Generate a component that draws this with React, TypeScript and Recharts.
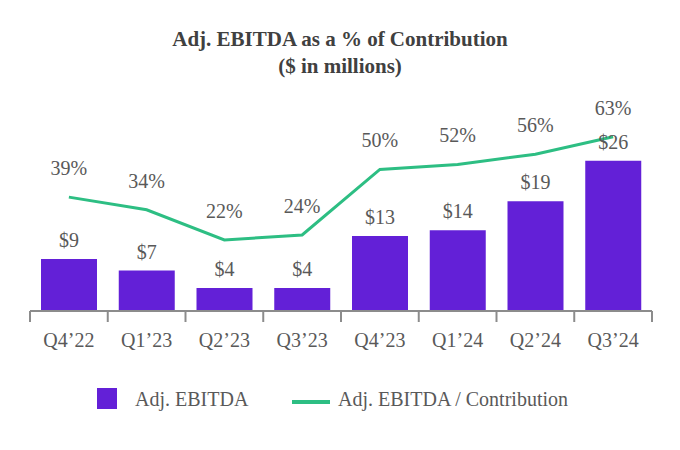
import * as React from "react";
import {
  ComposedChart,
  Bar,
  Line,
  XAxis,
  YAxis,
  Legend,
  LabelList,
} from "recharts";

const quarters = ["Q4’22", "Q1’23", "Q2’23", "Q3’23", "Q4’23", "Q1’24", "Q2’24", "Q3’24"];
const adjEbitda = [9, 7, 4, 4, 13, 14, 19, 26];
const ebitdaPct = [39, 34, 22, 24, 50, 52, 56, 63];

const PURPLE = "#6320D7";
const GREEN = "#2DBE83";
const TEXT = "#595959";
const AXIS = "#8c8c8c";
const FONT = "'Liberation Serif', 'Times New Roman', serif";

const WIDTH = 680;
const HEIGHT = 450;
const MARGIN = { top: 80, right: 28, bottom: 0, left: 30 };
const BAND = (WIDTH - MARGIN.left - MARGIN.right) / quarters.length;

const chartData = quarters.map((q, i) => ({
  quarter: q,
  ebitda: adjEbitda[i],
  pct: ebitdaPct[i],
}));

/**
 * Tick with the tick marks sitting on category boundaries
 */
function QuarterTick(props: any) {
  const { x, y, payload, index } = props;
  const left = x - BAND / 2;
  return (
    <g>
      <line x1={left} y1={y} x2={left} y2={y + 11} stroke={AXIS} strokeWidth={2} />
      {index === quarters.length - 1 && (
        <line x1={x + BAND / 2} y1={y} x2={x + BAND / 2} y2={y + 11} stroke={AXIS} strokeWidth={2} />
      )}
      <text
        x={x}
        y={y + 29}
        textAnchor="middle"
        dominantBaseline="central"
        fill={TEXT}
        fontSize={20}
        fontFamily={FONT}
      >
        {payload.value}
      </text>
    </g>
  );
}

function BarValueLabel(props: any) {
  const { x, y, width, value } = props;
  return (
    <text
      x={x + width / 2}
      y={y - 19}
      textAnchor="middle"
      dominantBaseline="central"
      fill={TEXT}
      fontSize={20}
      fontFamily={FONT}
    >
      {`$${value}`}
    </text>
  );
}

function PctLabel(props: any) {
  const { x, y, value } = props;
  return (
    <text
      x={x}
      y={y - 29}
      textAnchor="middle"
      dominantBaseline="central"
      fill={TEXT}
      fontSize={20}
      fontFamily={FONT}
    >
      {`${value}%`}
    </text>
  );
}

function ChartLegend() {
  const label: React.CSSProperties = {
    position: "absolute",
    top: 18,
    lineHeight: "22px",
    fontSize: 20,
    fontFamily: FONT,
    color: TEXT,
    whiteSpace: "nowrap",
  };
  return (
    <div style={{ position: "relative", width: WIDTH, height: 80 }}>
      <div style={{ position: "absolute", left: 97, top: 18, width: 20, height: 21, background: PURPLE }} />
      <span style={{ ...label, left: 135 }}>Adj. EBITDA</span>
      <div style={{ position: "absolute", left: 292, top: 30, width: 38, height: 4, background: GREEN }} />
      <span style={{ ...label, left: 338 }}>Adj. EBITDA / Contribution</span>
    </div>
  );
}

export default function App() {
  return (
    <div
      style={{
        position: "absolute",
        left: 0,
        top: 0,
        width: WIDTH,
        height: HEIGHT,
        background: "#fff",
      }}
    >
      <div
        style={{
          position: "absolute",
          top: 26,
          left: 0,
          width: WIDTH,
          textAlign: "center",
          fontFamily: FONT,
          fontWeight: "bold",
          fontSize: 21,
          lineHeight: "27px",
          color: "#404040",
        }}
      >
        <div>Adj. EBITDA as a % of Contribution</div>
        <div>($ in millions)</div>
      </div>
      <ComposedChart width={WIDTH} height={HEIGHT} data={chartData} margin={MARGIN}>
        <XAxis
          dataKey="quarter"
          height={59}
          axisLine={{ stroke: AXIS, strokeWidth: 2 }}
          tickLine={false}
          tickSize={0}
          tickMargin={0}
          interval={0}
          tick={<QuarterTick />}
        />
        <YAxis yAxisId="usd" hide domain={[0, 40]} />
        <YAxis yAxisId="pct" hide orientation="right" domain={[-6.2, 85.5]} />
        <Bar yAxisId="usd" dataKey="ebitda" name="Adj. EBITDA" fill={PURPLE} barSize={56} isAnimationActive={false}>
          <LabelList dataKey="ebitda" content={<BarValueLabel />} />
        </Bar>
        <Line
          yAxisId="pct"
          type="linear"
          dataKey="pct"
          name="Adj. EBITDA / Contribution"
          stroke={GREEN}
          strokeWidth={3}
          dot={false}
          activeDot={false}
          isAnimationActive={false}
        >
          <LabelList dataKey="pct" content={<PctLabel />} />
        </Line>
        <Legend
          verticalAlign="bottom"
          height={80}
          content={<ChartLegend />}
          wrapperStyle={{ left: 0, width: WIDTH, bottom: 0 }}
        />
      </ComposedChart>
    </div>
  );
}
